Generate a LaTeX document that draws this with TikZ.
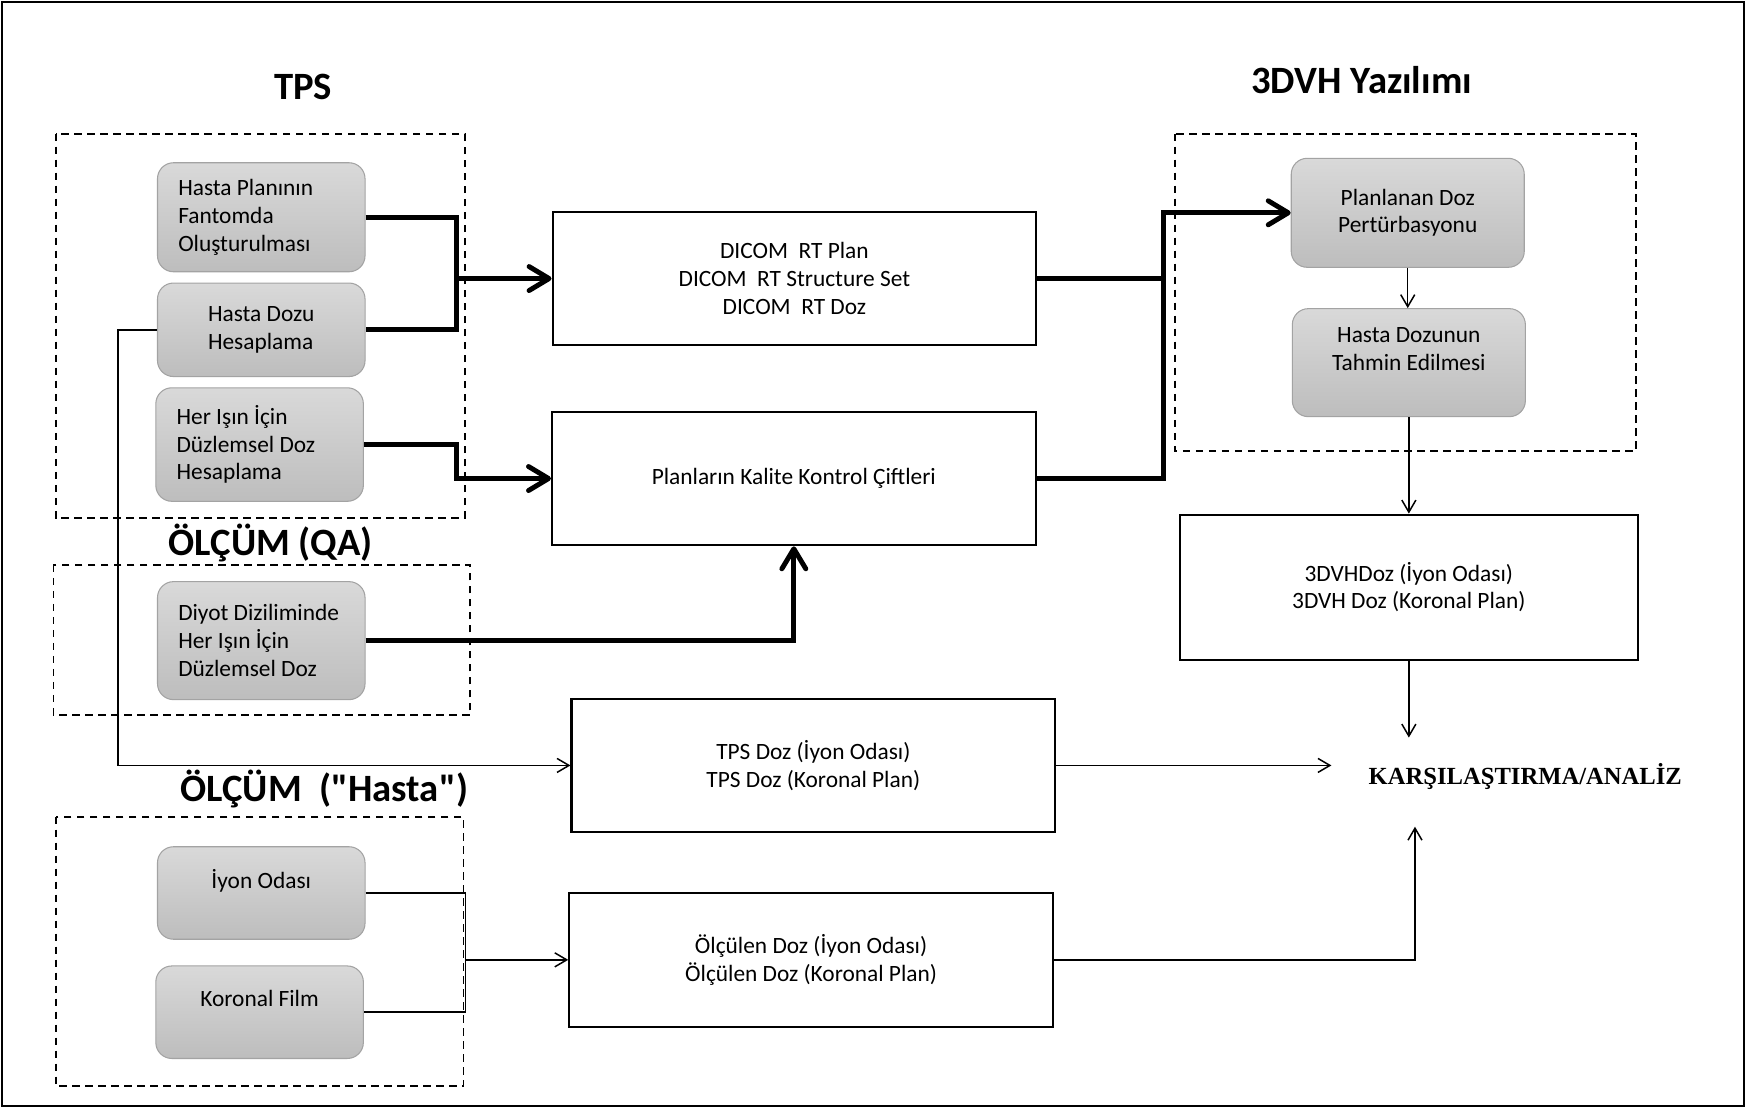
\documentclass[tikz,border=0pt]{standalone}
\usepackage{fontspec}
\setmainfont{Carlito}
\newfontfamily\serifface{Liberation Serif}
\usetikzlibrary{arrows.meta}
\definecolor{boxtop}{HTML}{D9D9D9}
\definecolor{boxbot}{HTML}{BDBDBD}
\definecolor{boxrim}{HTML}{A3A3A3}
\tikzset{every node/.style={font=\fontsize{13.3}{15.8}\selectfont},
  heading/.style={font=\fontsize{22}{26}\selectfont\bfseries},
  graybox/.style={draw=boxrim,line width=.6pt,rounded corners=3.2mm,top color=boxtop,bottom color=boxbot,
    inner sep=0pt,minimum width=41.5mm},
  leftbox/.style={graybox,align=flush left,text width=33.2mm},
  whitebox/.style={draw,fill=white,line width=1.2pt,inner sep=0pt,align=center,
    minimum width=96.7mm,minimum height=26.7mm},
  region/.style={draw,line width=1.1pt,dash pattern=on 1.5mm off 1.1mm},
  mainline/.style={line width=2.8pt},
  mainarrow/.style={mainline,-{Straight Barb[round,length=4mm,width=4.8mm]}},
  flowline/.style={line width=.85pt},
  flowarrow/.style={flowline,-{Straight Barb[length=2.4mm,width=2.8mm]}}}

\begin{document}
\begin{tikzpicture}[x=.2228mm,y=-.2228mm]
\useasboundingbox(0,0)rectangle(1568,995);
\draw[line width=1.2pt](2,2)rectangle(1565,993);
\draw[region](50,120)rectangle(417,465);
\draw[region](48,507)rectangle(422,642);
\draw[region](50,733)rectangle(416,975);
\draw[region](1055,120)rectangle(1468,405);
\node[heading](tps)at(272,78){TPS};
\node[heading](dvh)at(1222,72){3DVH Yazılımı};
\node[heading](qa)at(243,487){ÖLÇÜM (QA)};
\node[heading](hst)at(291,708){ÖLÇÜM\ \ (\textquotedbl Hasta\textquotedbl)};
\node[leftbox,minimum height=21.8mm](plan)at(234.5,195){Hasta Planının\\Fantomda\\Oluşturulması};
\node[graybox,align=left,minimum height=18.7mm](hdoz)at(234.5,296){Hasta Dozu\\Hesaplama};
\node[leftbox,minimum height=22.7mm](isin)at(233,399){Her Işın İçin\\Düzlemsel Doz\\Hesaplama};
\node[leftbox,minimum height=23.6mm](diyot)at(234.5,575){Diyot Diziliminde\\Her Işın İçin\\Düzlemsel Doz};
\node[graybox,align=center,minimum height=18.5mm](iyon)at(234.5,801.5){İyon Odası\\~};
\node[graybox,align=center,minimum height=18.5mm](film)at(233,908.5){Koronal Film\\~};
\node[graybox,align=center,minimum width=46.6mm,minimum height=21.8mm](pert)at(1263.5,191){Planlanan Doz\\Pertürbasyonu};
\node[graybox,align=center,minimum width=46.6mm,minimum height=21.6mm](tahmin)at(1264.5,325.5){Hasta Dozunun\\Tahmin Edilmesi\\~};
\node[whitebox](dicom)at(713,250){DICOM\ \ RT Plan\\DICOM\ \ RT Structure Set\\DICOM\ \ RT Doz};
\node[whitebox](kalite)at(712.5,429.5){Planların Kalite Kontrol Çiftleri};
\node[whitebox](tpsdoz)at(730,687){TPS Doz (İyon Odası)\\TPS Doz (Koronal Plan)};
\node[whitebox](olcum)at(728,861.5){Ölçülen Doz (İyon Odası)\\Ölçülen Doz (Koronal Plan)};
\node[whitebox,minimum width=91.6mm,minimum height=29mm](dvhdoz)at(1264.5,527){3DVHDoz (İyon Odası)\\3DVH Doz (Koronal Plan)};
\node[font=\serifface\fontsize{14}{16}\selectfont\bfseries](analiz)at(1369,697){KARŞILAŞTIRMA/ANALİZ};
\coordinate(j1)at(410,250);
\coordinate(j2)at(410,429.5);
\coordinate(j3)at(1044,191);
\coordinate(j4)at(106,296);
\coordinate(j5)at(418,861.5);
\coordinate(a1)at(1264.5,662);
\coordinate(a2)at(1195,687);
\coordinate(a3)at(1270,742);
\draw[mainline](plan.east)-|(j1)|-(hdoz.east);
\draw[mainarrow](j1)--(dicom.west);
\draw[mainarrow](isin.east)-|(j2)--(kalite.west);
\draw[mainarrow](diyot.east)-|(kalite.south);
\draw[mainline](dicom.east)--(dicom.east-|j3);
\draw[mainarrow](kalite.east)-|(j3)--(pert.west);
\draw[flowarrow](hdoz.west)--(j4)|-(tpsdoz.west);
\draw[flowarrow](pert.south)--(pert.south|-tahmin.north);
\draw[flowarrow](tahmin.south)--(tahmin.south|-dvhdoz.north);
\draw[flowarrow](dvhdoz.south)--(a1);
\draw[flowarrow](tpsdoz.east)--(a2);
\draw[flowarrow](olcum.east)-|(a3);
\draw[flowline](iyon.east)-|(j5)|-(film.east);
\draw[flowarrow](j5)--(olcum.west);
\end{tikzpicture}
\end{document}
